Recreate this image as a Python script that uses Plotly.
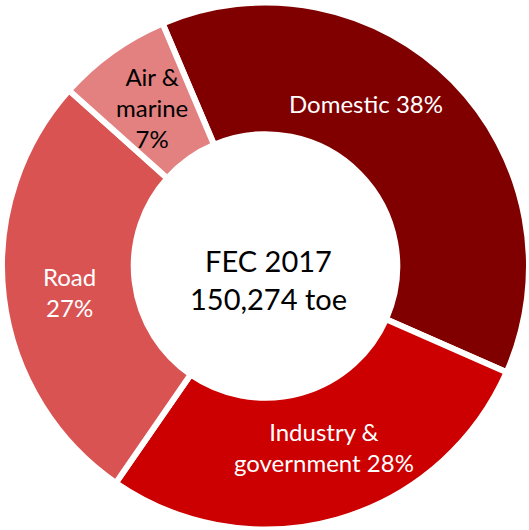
import plotly.graph_objects as go

categories = ["Domestic", "Industry & government", "Road", "Air & marine"]
shares = [38, 28, 27, 7]
label_lines = ["Domestic 38%", "Industry &<br>government 28%", "Road<br>27%", "Air &<br>marine<br>7%"]
center_text = "FEC 2017<br>150,274 toe"

colors = ["#800000", "#CC0000", "#D95353", "#E38080"]
text_colors = ["white", "white", "white", "black"]
# label block centres in page pixels (layout only)
label_px = [(366, 104), (324, 447), (69, 292), (152, 108)]

W, H = 529, 530
fig = go.Figure(go.Pie(
    labels=categories,
    values=shares,
    hole=0.5,
    sort=False,
    direction="clockwise",
    rotation=-23,
    textinfo="none",
    hoverinfo="label+percent",
    marker=dict(colors=colors, line=dict(color="white", width=6)),
    domain=dict(x=[2 / W, 1], y=[0, 1 - 2 / H]),
    showlegend=False,
))

annotations = []
for txt, col, (px, py) in zip(label_lines, text_colors, label_px):
    annotations.append(dict(
        text=txt, x=px / W, y=1 - py / H, xref="paper", yref="paper",
        showarrow=False, font=dict(family="Lato", size=24, color=col),
        xanchor="center", yanchor="middle", align="center",
    ))
annotations.append(dict(
    text=center_text, x=268 / W, y=1 - 279 / H, xref="paper", yref="paper",
    showarrow=False, font=dict(family="Lato", size=29, color="black"),
    xanchor="center", yanchor="middle", align="center",
))

fig.update_layout(
    width=W, height=H,
    margin=dict(l=0, r=0, t=0, b=0),
    paper_bgcolor="white",
    plot_bgcolor="white",
    annotations=annotations,
)
fig.write_html("out.html")
